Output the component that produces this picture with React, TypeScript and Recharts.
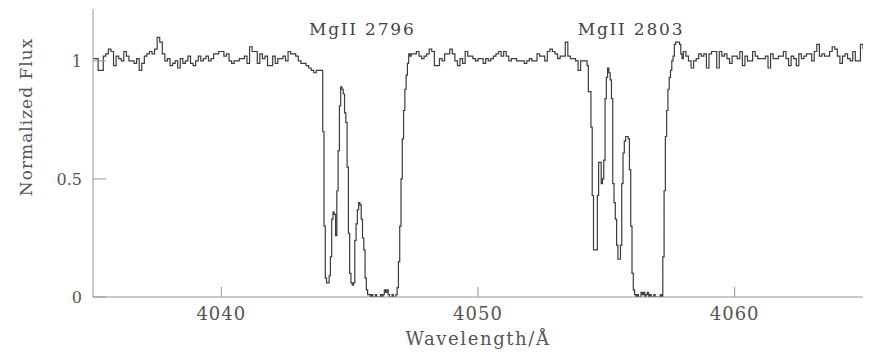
import { LineChart, Line, XAxis, YAxis, ReferenceDot } from 'recharts';

// normalized flux, read off the plot. continuum parts are sampled every 0.1 A,
// the two absorption troughs every 0.05 A
const fluxContLeft = [
  1.01, 1.01, 0.96, 0.96, 1.02, 1.03, 1.05, 1.04, 0.98, 1.02,
  1.01, 1.0, 1.04, 1.02, 1.0, 1.0, 0.99, 1.01, 0.96, 0.99,
  1.02, 1.03, 1.04, 1.03, 1.05, 1.1, 1.08, 1.03, 1.0, 1.01,
  0.98, 0.99, 1.0, 0.97, 1.01, 0.99, 1.0, 1.02, 0.99, 0.98,
  1.0, 1.02, 1.0, 1.01, 1.02, 1.0, 1.01, 1.03, 1.03, 1.04,
  1.04, 1.02, 1.03, 1.0, 0.99, 1.0, 1.0, 1.01, 1.01, 1.02,
  0.99, 1.06, 1.04, 1.04, 0.99, 1.03, 1.01, 1.02, 0.98, 0.98,
  1.02, 0.99, 1.01, 1.01, 1.02, 1.0, 1.04, 1.03, 1.03, 1.02,
  1.0, 0.99, 0.99, 0.98, 0.97, 0.96, 0.95, 0.96, 0.96,
];

const fluxMg2796 = [
  0.96, 0.96, 0.7,
  0.3, 0.08, 0.06, 0.06, 0.09, 0.17, 0.33, 0.36, 0.35, 0.26,
  0.45, 0.62, 0.81, 0.89, 0.88, 0.86, 0.78, 0.74, 0.55, 0.27,
  0.1, 0.06, 0.05, 0.06, 0.24, 0.31, 0.37, 0.4, 0.39, 0.33,
  0.25, 0.2, 0.08, 0.03, 0.01, 0.01, 0.0, 0.01, 0.0, 0.0,
  0.01, 0.0, 0.0, 0.0, 0.01, 0.0, 0.01, 0.03, 0.02, 0.03,
  0.01, 0.0, 0.0, 0.01, 0.0, 0.0, 0.01, 0.04, 0.15, 0.3,
  0.5, 0.67, 0.79, 0.88, 0.94, 0.99, 1.03, 1.02,
];

const fluxContMid = [
  1.03, 1.03, 1.04, 1.02, 1.01, 1.02,
  1.03, 1.05, 1.04, 0.98, 0.98, 1.01, 1.0, 1.03, 1.03, 1.05,
  1.03, 1.0, 0.98, 1.01, 0.99, 1.04, 1.02, 1.02, 1.01, 1.0,
  1.01, 1.01, 0.99, 1.01, 1.0, 1.01, 1.02, 1.03, 1.04, 1.02,
  1.04, 1.02, 1.0, 1.01, 1.01, 1.0, 1.0, 1.0, 0.99, 1.0,
  1.01, 1.0, 1.0, 1.03, 1.02, 1.02, 1.0, 1.04, 1.05, 1.04,
  1.03, 1.01, 1.02, 1.02, 1.08, 1.02, 1.01, 1.01, 1.0, 0.96,
  1.0, 1.0,
];

const fluxMg2803 = [
  1.0, 0.98, 0.87, 0.87, 0.72, 0.43, 0.2, 0.2, 0.2, 0.43,
  0.57, 0.57, 0.48, 0.5, 0.58, 0.84,
  0.93, 0.97, 0.95, 0.92, 0.84, 0.48, 0.4, 0.33, 0.22, 0.16,
  0.16, 0.22, 0.48, 0.61, 0.66, 0.68, 0.68, 0.67, 0.54, 0.3,
  0.1, 0.03, 0.01, 0.0, 0.01, 0.0, 0.0, 0.02, 0.01, 0.02,
  0.0, 0.01, 0.02, 0.0, 0.01, 0.0, 0.0, 0.01, 0.0, 0.0,
  0.0, 0.0, 0.01, 0.0, 0.17, 0.45, 0.68, 0.79, 0.88, 0.93,
  0.96, 1.0, 1.02, 1.07, 1.08, 1.08, 1.08, 1.07, 1.03, 1.01,
];

const fluxContRight = [
  1.04, 1.02, 1.0, 0.97, 1.0, 1.01, 1.03, 1.02, 1.03, 0.97,
  1.03, 1.04, 1.04, 0.97, 1.04, 1.02, 1.03, 1.01, 0.99, 1.02,
  1.02, 1.01, 1.04, 0.98, 1.02, 1.0, 1.0, 1.04, 1.02, 1.01,
  1.01, 1.01, 1.02, 0.97, 1.03, 1.01, 1.01, 1.02, 1.02, 1.04,
  1.01, 0.98, 1.02, 1.01, 0.98, 1.03, 1.01, 1.02, 1.03, 1.03,
  1.0, 1.04, 1.07, 1.02, 1.03, 1.02, 1.02, 1.04, 1.06, 1.05,
  1.02, 0.99, 1.02, 1.03, 1.01, 1.0, 1.04, 1.0, 1.0, 1.07,
  1.05,
];

const segments = [
  { start: 4035.0, step: 0.1, flux: fluxContLeft },
  { start: 4043.85, step: 0.05, flux: fluxMg2796 },
  { start: 4047.4, step: 0.1, flux: fluxContMid },
  { start: 4054.2, step: 0.05, flux: fluxMg2803 },
  { start: 4058.0, step: 0.1, flux: fluxContRight },
];

const xTicks = [4040, 4050, 4060];
const yTicks = [0, 0.5, 1];

const lineLabels = [
  { name: 'MgII 2796', wave: 4045.49, flux: 1.134 },
  { name: 'MgII 2803', wave: 4055.96, flux: 1.134 },
];

const FONT = "'DejaVu Serif', serif";
const AXIS = '#959595';
const TEXT = '#555';

const rows = segments.flatMap(seg =>
  seg.flux.map((f, i) => ({ wave: +(seg.start + i * seg.step).toFixed(2), flux: f }))
);

const YTitle = () => (
  <text
    x={32}
    y={117}
    transform="rotate(-90 32 117)"
    textAnchor="middle"
    fill={TEXT}
    fontSize={17}
    fontFamily={FONT}
    letterSpacing={1}
  >
    Normalized Flux
  </text>
);

export default function App() {
  return (
    <div style={{ position: 'absolute', left: 0, top: 0, width: 879, height: 358, background: '#fff' }}>
      <LineChart width={879} height={358} data={rows} margin={{ top: 9, right: 16, bottom: 0, left: 0 }}>
        <XAxis
          dataKey="wave"
          type="number"
          domain={[4035, 4065]}
          ticks={xTicks}
          allowDataOverflow
          height={61}
          stroke={AXIS}
          tickSize={-10}
          tickMargin={20}
          tick={{ fill: TEXT, fontSize: 18, fontFamily: FONT, letterSpacing: 1 }}
          label={{ value: 'Wavelength/Å', position: 'insideBottom', offset: 13, fill: TEXT, fontSize: 18, fontFamily: FONT, letterSpacing: 1.6 }}
        />
        <YAxis
          yAxisId="left"
          type="number"
          domain={[0, 1.22]}
          ticks={yTicks}
          allowDataOverflow
          width={93}
          stroke={AXIS}
          tickSize={-13}
          tickMargin={24}
          tick={{ fill: TEXT, fontSize: 16, fontFamily: FONT }}
          label={{ content: YTitle }}
        />
        <YAxis
          yAxisId="right"
          orientation="right"
          type="number"
          domain={[0, 1.22]}
          ticks={yTicks}
          allowDataOverflow
          width={0}
          stroke={AXIS}
          tickSize={-12}
          tickFormatter={() => ''}
        />
        <Line
          yAxisId="left"
          type="stepAfter"
          dataKey="flux"
          stroke="#3c3c3c"
          strokeWidth={1.2}
          dot={false}
          isAnimationActive={false}
        />
        {lineLabels.map(l => (
          <ReferenceDot
            key={l.name}
            yAxisId="left"
            x={l.wave}
            y={l.flux}
            r={0}
            fill="none"
            stroke="none"
            ifOverflow="visible"
            label={{ value: l.name, position: 'center', fill: '#444', fontSize: 17, fontFamily: FONT, letterSpacing: 1.8 }}
          />
        ))}
      </LineChart>
    </div>
  );
}
